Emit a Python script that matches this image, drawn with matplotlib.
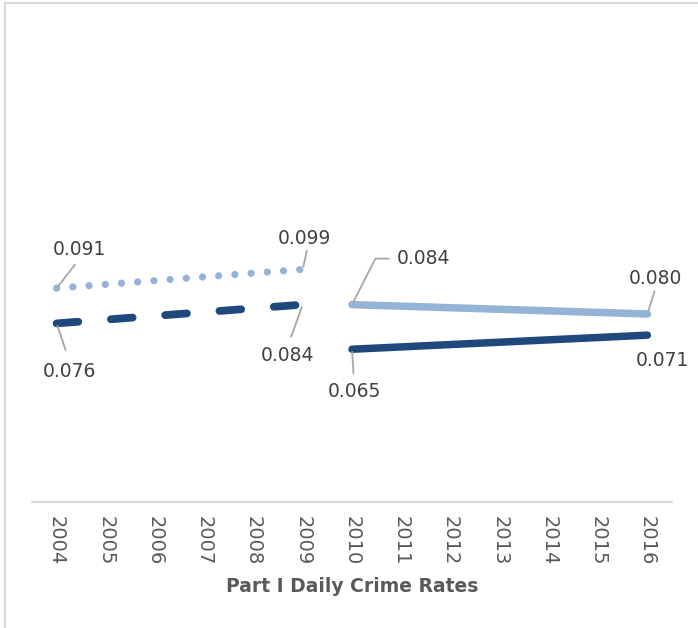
import matplotlib.pyplot as plt
from matplotlib.lines import Line2D

# data
years = ['2004', '2005', '2006', '2007', '2008', '2009', '2010',
         '2011', '2012', '2013', '2014', '2015', '2016']
early_x = [0, 5]          # 2004 .. 2009
late_x = [6, 12]          # 2010 .. 2016
light_early = [0.091, 0.099]
dark_early = [0.076, 0.084]
light_late = [0.084, 0.080]
dark_late = [0.065, 0.071]

light = '#95B3D7'
dark = '#1F497D'
grey = '#A6A6A6'

fig = plt.figure(figsize=(6.98, 6.28), dpi=100)
ax = fig.add_axes([32/698, 126/628, 640/698, 470/628])

ax.plot(early_x, light_early, color=light, lw=5.2, dashes=(0.01, 2.24),
        dash_capstyle='round', solid_capstyle='round')
ax.plot(early_x, dark_early, color=dark, lw=5.6, dashes=(2.8, 4.2),
        dash_capstyle='round')
ax.plot(late_x, light_late, color=light, lw=5.4, solid_capstyle='round')
ax.plot(late_x, dark_late, color=dark, lw=5.4, solid_capstyle='round')

ax.set_xlim(-0.5, 12.5)
ax.set_ylim(0, 0.2)
ax.set_xticks(range(len(years)))
ax.set_xticklabels(years, rotation=270, fontsize=14, color='#595959')
ax.tick_params(axis='x', length=0, pad=10)
ax.set_yticks([])
for s in ['left', 'right', 'top']:
    ax.spines[s].set_visible(False)
ax.spines['bottom'].set_color('#D9D9D9')
ax.spines['bottom'].set_linewidth(1.5)
ax.set_xlabel('Part I Daily Crime Rates', fontsize=13.5, fontweight='bold',
              color='#595959', labelpad=8)


def label(x, y, txt, dx, dy, leader=True, rel=(0.5, 0.5), gap=8,
          conn='arc3'):
    props = None
    if leader:
        props = dict(arrowstyle='-', color=grey, lw=1.3, shrinkA=gap,
                     shrinkB=2, relpos=rel, connectionstyle=conn)
    ax.annotate(txt, (x, y), xytext=(dx, dy), textcoords='offset pixels',
                ha='center', va='center', fontsize=13.5, color='#404040',
                arrowprops=props)


label(early_x[0], light_early[0], '%.3f' % light_early[0], 23, 39, rel=(0.5, 0.0), gap=3)
label(early_x[1], light_early[1], '%.3f' % light_early[1], 2, 31, rel=(0.55, 0.0), gap=0)
label(early_x[0], dark_early[0], '%.3f' % dark_early[0], 13, -48, rel=(0.5, 1.0), gap=7)
label(early_x[1], dark_early[1], '%.3f' % dark_early[1], -15, -51, rel=(0.5, 1.0), gap=5)
label(late_x[0], light_late[0], '%.3f' % light_late[0], 72, 46, rel=(0.0, 0.5),
      gap=4, conn='angle,angleA=0,angleB=63,rad=0')
label(late_x[1], light_late[1], '%.3f' % light_late[1], 8, 35, rel=(0.5, 0.0), gap=0)
label(late_x[0], dark_late[0], '%.3f' % dark_late[0], 2, -42, rel=(0.5, 1.0), gap=4)
label(late_x[1], dark_late[1], '%.3f' % dark_late[1], 15, -25, leader=False)

# chart border (only top and left show in the crop)
fig.add_artist(Line2D([5/698, 5/698], [0, 1 - 3/628], color='#D9D9D9', lw=1.5))
fig.add_artist(Line2D([5/698, 1], [1 - 3/628, 1 - 3/628], color='#D9D9D9', lw=1.5))

fig.savefig('out.png', dpi=100)
